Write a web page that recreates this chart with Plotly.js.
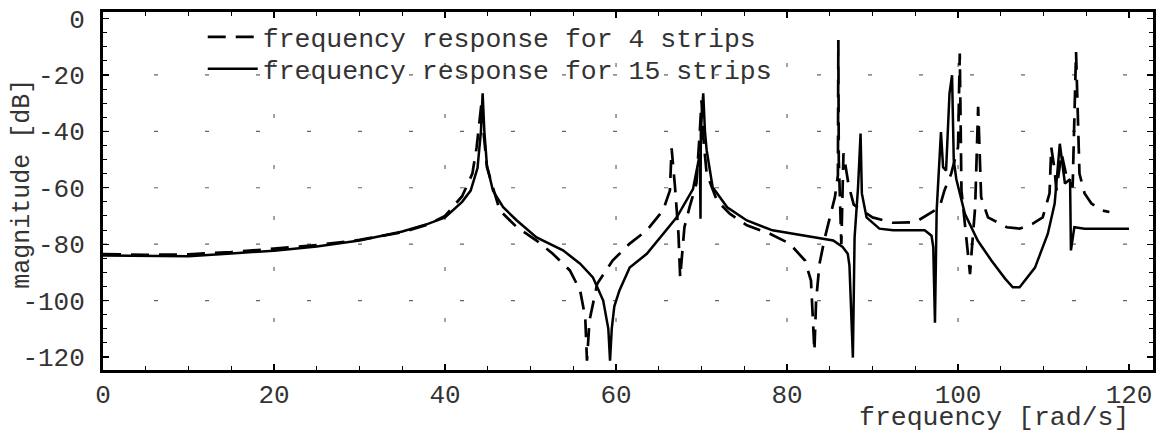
<!DOCTYPE html>
<html>
<head>
<meta charset="utf-8">
<script src="https://cdn.plot.ly/plotly-3.0.1.min.js"></script>
<style>html,body{margin:0;padding:0;background:#fff;}#chart{width:1158px;height:434px;}</style>
</head>
<body>
<div id="chart"></div>
<script>
// 4 strips (dashed)
const freq4 = [0,5,10,15,20,25,30,35,38,40,42,43.2,43.7,44.1,44.3,44.5,44.9,46.4,48.4,50.7,52.6,54.6,55.8,56.4,56.6,56.9,57.8,59.6,61.6,63.6,65.5,66.3,66.5,66.9,67.3,67.5,67.8,68.0,68.6,69.4,69.8,70.0,70.2,70.6,71.8,73.3,75.3,78,80.3,82.1,82.8,83.0,83.2,83.4,83.8,84.4,85,85.6,85.95,86.0,86.05,86.35,86.6,87.2,87.8,90,92.4,95,97.3,97.9,98.4,99.2,100.0,100.2,100.4,101.1,101.4,101.6,102.0,102.35,102.7,103.5,105.7,107.2,108.7,109.9,110.7,110.9,111.3,111.5,112.1,112.7,113.4,113.8,114.2,114.8,115.6,116.8,117.7];
const mag4 = [-83.5,-83.8,-83.6,-82.8,-81.6,-80.3,-78.5,-75.8,-73,-70,-63,-55,-45.6,-35,-29,-40,-52.7,-68,-74,-78.7,-83.4,-89.3,-96.4,-106,-121.3,-107,-94,-85.8,-79.8,-75.1,-68,-61,-46,-59.8,-76.3,-91.8,-82,-74,-66.9,-58.5,-40,-29,-42,-55,-64.5,-69.2,-73.3,-76.3,-79.8,-85.8,-92.9,-106,-117.8,-100,-86.9,-78,-70.5,-63.3,-55.6,-7.6,-50,-80,-47.8,-59,-66,-70.5,-72.4,-72.2,-68,-66.3,-61,-55,-45.6,-12.4,-61,-83.4,-90.6,-82.2,-66.9,-31.3,-63.3,-70.5,-74,-74.5,-72.8,-70.5,-62,-45.6,-53.9,-61,-47.8,-56.2,-59.8,-11.9,-55,-62,-65.6,-68,-68.6];
// 15 strips (solid)
const freq15 = [0,5,10,15,20,25,30,35,38,40,42,43,43.8,44.2,44.4,44.6,44.9,45.6,46.8,48.4,50.7,53.8,55.8,57.3,58.5,59.1,59.3,59.5,59.8,60.4,61.6,63.6,65.5,67.1,69.0,69.8,69.88,69.92,70.2,70.4,70.6,71.3,73,75.3,78.3,80.7,83.5,85.4,86.5,87.1,87.3,87.7,87.9,88.3,88.6,88.75,89.3,90.8,92.4,96.1,96.9,97.1,97.3,97.5,98.0,98.25,98.6,99.0,99.3,99.5,99.8,100.8,102.3,103.9,105.5,106.4,107.2,108.4,109,110.5,111.3,111.9,112.5,113.1,113.2,113.6,114.8,120];
const mag15 = [-84,-84.2,-84.3,-83.3,-82.3,-80.8,-78.7,-75.5,-72.8,-70.5,-65,-61,-53,-40,-26.5,-40,-52,-61,-66.9,-71.6,-77.6,-82.2,-86.9,-91.8,-100,-110,-121.3,-110,-102,-96.4,-88.3,-83.4,-76.5,-70.5,-60.5,-48,-71,-40,-26.5,-40,-46.7,-59.8,-66.9,-71.6,-75.1,-76.3,-77.6,-78.7,-81,-83.4,-87.6,-120.2,-77.6,-60,-40.8,-62,-70.5,-74.5,-75.1,-75.1,-77,-81,-107.8,-68,-40.3,-52.7,-53.9,-26.5,-20.1,-50.3,-57,-69.2,-78.7,-85.8,-92.2,-95.3,-95.3,-90.6,-88.3,-76.3,-65.6,-44.4,-58.5,-57,-82.2,-74,-74.5,-74.5];

const xTickVals = [0,20,40,60,80,100,120];
const xTickText = ['0','20','40','60','80','100','120'];
const yTickVals = [0,-20,-40,-60,-80,-100,-120];
const yTickText = ['0','-20','-40','-60','-80','-100','-120'];
const xGridVals = [20,40,60,80,100];
const yGridVals = [-20,-40,-60,-80,-100];
const seriesNames = ['frequency response for 4 strips','frequency response for 15 strips'];

const FONT = 'Liberation Mono, Courier New, monospace';
const TXT = '#333';
const GRID = {color:'#666', width:1.2, dash:'4px,47px'};
const traces = [
  {x: freq4, y: mag4, type:'scatter', mode:'lines', name: seriesNames[0], legend:'legend',
   line:{color:'#000', width:2.7, dash:'18px,10px'}},
  {x: freq15, y: mag15, type:'scatter', mode:'lines', name: seriesNames[1], legend:'legend2',
   line:{color:'#000', width:2.5}}
];
const axisCommon = {
  showline:true, linecolor:'#000', linewidth:3, mirror:'allticks',
  ticks:'inside', ticklen:6, tickwidth:1.2, tickcolor:'#000',
  showgrid:false, zeroline:false,
  tickfont:{family:FONT, size:26, color:TXT},
  minor:{dtick:5, ticks:'inside', ticklen:4, tickwidth:1, tickcolor:'#000', showgrid:false}
};
const shapes = [];
xGridVals.forEach(v => shapes.push({type:'line', xref:'x', yref:'paper', x0:v, x1:v, y0:1, y1:0, line:GRID, layer:'below'}));
yGridVals.forEach(v => shapes.push({type:'line', xref:'paper', yref:'y', x0:0, x1:1, y0:v, y1:v, line:GRID, layer:'below'}));
const legendCommon = {x:0.095, xanchor:'left', yanchor:'top', bgcolor:'rgba(0,0,0,0)', itemwidth:50,
  font:{family:FONT, size:26.5, color:TXT}};
const layout = {
  width:1158, height:434,
  margin:{l:103, r:5, t:12, b:64},
  paper_bgcolor:'#fff', plot_bgcolor:'#fff',
  showlegend:true,
  legend: Object.assign({}, legendCommon, {y:0.997}),
  legend2: Object.assign({}, legendCommon, {y:0.908}),
  xaxis: Object.assign({}, axisCommon, {range:[0,122.8], tickvals:xTickVals, ticktext:xTickText, ticklabelstandoff:-1}),
  yaxis: Object.assign({}, axisCommon, {range:[-124.6,2.3], tickvals:yTickVals, ticktext:yTickText, ticklabelstandoff:10}),
  shapes: shapes,
  annotations:[
    {text:'frequency [rad/s]', xref:'paper', yref:'paper', x:0.979, y:0, xanchor:'right', yanchor:'top', yshift:-31,
     showarrow:false, font:{family:FONT, size:26.5, color:TXT}},
    {text:'magnitude [dB]', xref:'paper', yref:'paper', x:0, y:0.52, xanchor:'center', yanchor:'middle', xshift:-80,
     textangle:-90, showarrow:false, font:{family:FONT, size:25, color:TXT}}
  ]
};
Plotly.newPlot('chart', traces, layout, {displayModeBar:false, staticPlot:true});
</script>
</body>
</html>
